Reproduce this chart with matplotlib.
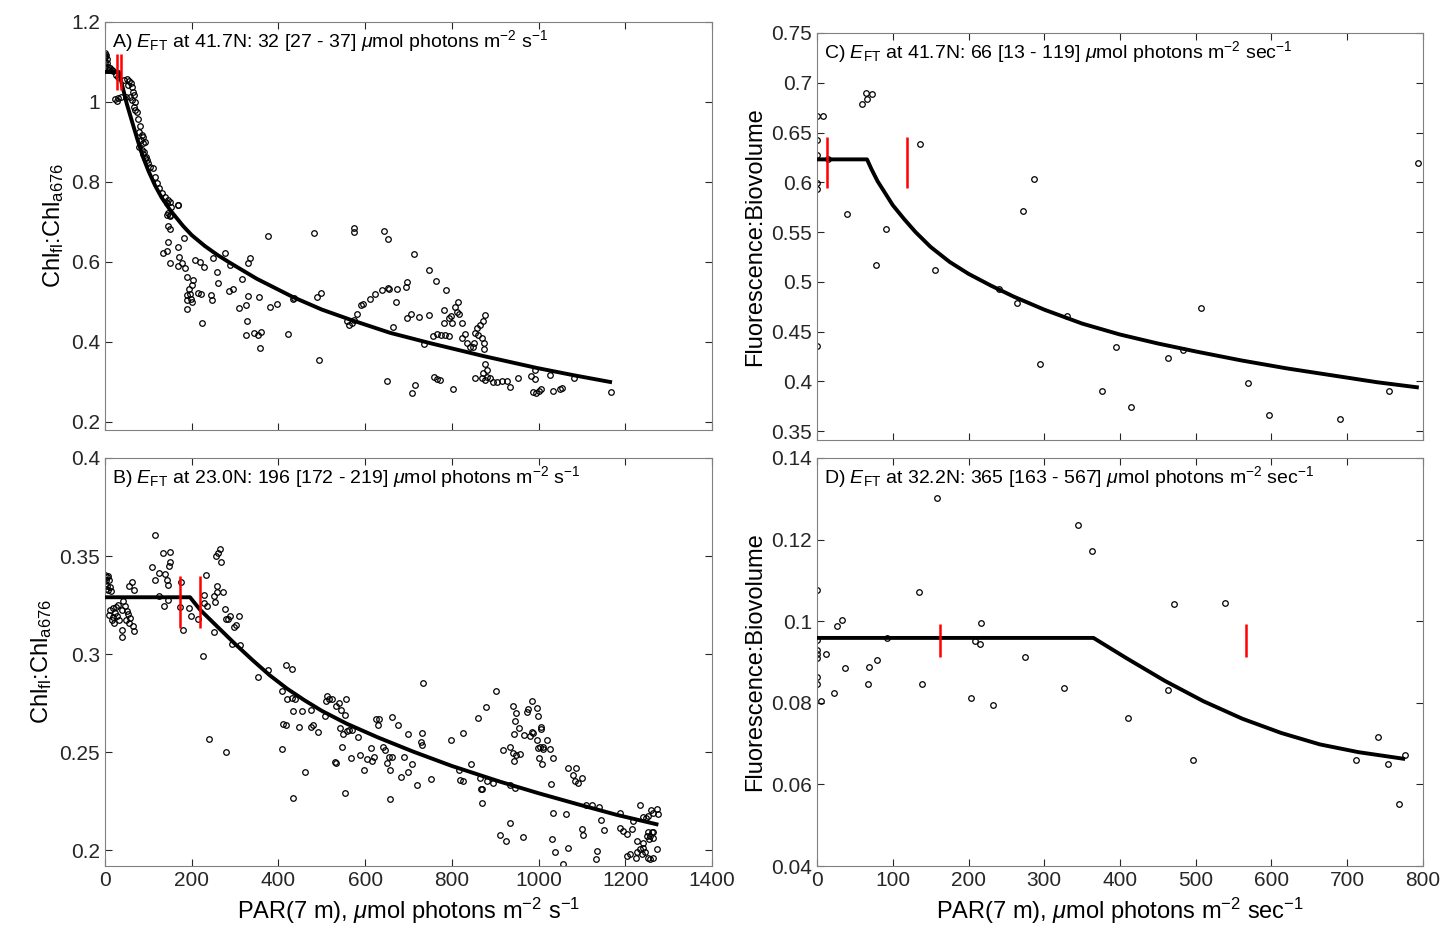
import numpy as np
import matplotlib.pyplot as plt
from matplotlib.ticker import FuncFormatter

plt.rcParams['font.family'] = ['Liberation Sans Narrow', 'Liberation Sans', 'DejaVu Sans']
plt.rcParams['mathtext.fontset'] = 'custom'
plt.rcParams['mathtext.rm'] = 'Liberation Sans'
plt.rcParams['mathtext.it'] = 'Liberation Sans:italic'
plt.rcParams['mathtext.bf'] = 'Liberation Sans:bold'

# ---- panel A: Chl_fl:Chl_a676 vs PAR, 41.7N ----
a_par = [0, 2.3, 0, 3.8, 0, 5.4, 0.8, 7.7, 3.8, 10, 0, 11.5, 15.4, 19.2,
         25, 30.7, 27, 30.7, 36, 23,
         43.8, 50, 56, 59, 54, 61.5, 48.4, 57.7, 62, 65, 67.7, 69,
         67.7, 70, 73, 76.9, 80.7, 79.2, 84.6, 88.4, 82.3, 86.9, 92.3, 79.2, 84.6, 90, 86.9,
         94.6, 96.1, 99.9, 92.3, 103.8, 110, 115.3, 119.2, 125.3, 130.7, 138.4, 146, 150,
         142.2, 151.4, 169, 146, 150,
         169, 142.3, 149.9, 146, 150, 146, 134.5, 143.8, 150, 167.6, 182, 170.7, 178.4, 169,
         184.5, 188, 202, 200, 188, 196, 188, 197.6, 194.5, 189.8, 200, 215, 220.6, 208, 219,
         228, 223, 244.5, 247.5, 250, 257.5, 261, 277.5, 288, 287, 294.5, 315, 308, 324, 329,
         334, 330.5, 326.8, 324, 344, 353.6, 359, 354.4, 358.2, 376.7, 380.5, 396.7, 422.8,
         432.8, 435.9, 482.8, 488, 497.4, 493.6, 557.4, 563.5, 569, 574.3, 582, 589.7, 595.9,
         574.3, 574.3, 611, 623.5, 638, 652.6, 654, 672.6, 643.5, 652, 670.4, 663.4, 649.6,
         694, 697, 712.6, 697, 705, 725, 748, 762.6, 748, 785.7, 755.7, 765, 774, 784, 792.4,
         735.7, 815, 807.4, 811, 817.3, 797.3, 794, 782.3, 782.3, 801, 824, 822.6, 830, 834,
         842, 848, 852, 853.6, 859, 865, 871, 876, 861, 869, 873, 874.5, 876, 880, 872.6, 882,
         888, 876, 895.6, 905, 915, 928, 853.6, 870.6, 758.8, 766, 772, 715, 709, 803.4, 934,
         953, 982.5, 991.7, 1026, 988, 993.5, 1000, 1005.5, 991.7, 1034, 1049.6, 1053.5,
         1082, 1167]
a_chl = [1.122, 1.117, 1.112, 1.107, 1.101, 1.097, 1.09, 1.087, 1.082, 1.08, 1.115, 1.084, 1.08, 1.078,
         1.067, 1.062, 1.003, 1.009, 1.012, 1.007,
         1.055, 1.057, 1.053, 1.047, 1.042, 1.038, 1.012, 1.013, 1.005, 1.026, 1.017, 1.001,
         0.988, 0.98, 0.976, 0.957, 0.94, 0.926, 0.917, 0.913, 0.905, 0.897, 0.901, 0.888, 0.88, 0.876, 0.87,
         0.863, 0.855, 0.847, 0.859, 0.838, 0.834, 0.813, 0.797, 0.784, 0.772, 0.763, 0.755, 0.751,
         0.747, 0.738, 0.742, 0.722, 0.715,
         0.7425, 0.7175, 0.7175, 0.69, 0.6817, 0.651, 0.623, 0.628, 0.597, 0.637, 0.661, 0.612, 0.597, 0.59,
         0.584, 0.562, 0.555, 0.542, 0.5175, 0.519, 0.505, 0.5067, 0.5317, 0.4817, 0.5, 0.5233, 0.52, 0.605, 0.599,
         0.587, 0.448, 0.5175, 0.505, 0.611, 0.574, 0.548, 0.622, 0.5925, 0.5275, 0.5317, 0.5575, 0.484, 0.4925, 0.515,
         0.609, 0.5967, 0.453, 0.4175, 0.423, 0.4175, 0.425, 0.5117, 0.385, 0.6658, 0.488, 0.494, 0.419,
         0.5075, 0.509, 0.6725, 0.5117, 0.5217, 0.354, 0.4533, 0.4425, 0.4467, 0.455, 0.47, 0.4917, 0.495,
         0.684, 0.674, 0.5067, 0.52, 0.53, 0.534, 0.5317, 0.5325, 0.678, 0.6567, 0.5, 0.4367, 0.3025,
         0.5383, 0.549, 0.619, 0.461, 0.47, 0.463, 0.58, 0.5525, 0.4675, 0.5308, 0.4158, 0.419, 0.4183, 0.4175, 0.415,
         0.394, 0.5008, 0.4883, 0.4758, 0.47, 0.465, 0.459, 0.48, 0.4467, 0.4467, 0.4483, 0.409, 0.419, 0.397,
         0.388, 0.388, 0.398, 0.4217, 0.434, 0.4425, 0.4525, 0.4675, 0.4175, 0.409, 0.398, 0.3817, 0.344, 0.33, 0.3217, 0.3133,
         0.309, 0.305, 0.301, 0.301, 0.3025, 0.3033, 0.309, 0.309, 0.3117, 0.3067, 0.305, 0.2925, 0.2717, 0.2817, 0.2867,
         0.3108, 0.3158, 0.3075, 0.3175, 0.2758, 0.2733, 0.2775, 0.2817, 0.329, 0.2783, 0.2817, 0.2858,
         0.3108, 0.2758]
a_fit_par = [0, 32, 42, 50, 65, 75, 88, 100, 115, 130, 150, 180, 200, 230, 260, 288, 350, 434, 500, 565,
             657, 750, 872, 996, 1080, 1165]
a_fit_chl = [1.075, 1.075, 1.031, 0.996, 0.941, 0.905, 0.861, 0.828, 0.792, 0.762, 0.730, 0.690, 0.667,
             0.640, 0.617, 0.598, 0.558, 0.512, 0.481, 0.456, 0.423, 0.397, 0.365, 0.335, 0.317, 0.300]
a_ci = [27, 37]
a_ci_span = [1.03, 1.12]

# ---- panel B: Chl_fl:Chl_a676 vs PAR, 23.0N ----
b_par = [0, 3.8, 7.7, 2.3, 10, 0, 5.4, 11.5, 2.3, 7.7, 13,
         11.5, 19.2, 25.4, 30.7, 10, 17.7, 23, 28.4, 15.4, 20.8, 33, 38.4, 42.3, 46, 50, 53.8, 57.7,
         48.4, 56, 65.3, 66.9, 38.4, 38.4, 56, 63, 67.7, 115.3,
         109, 125.3, 116, 138.4, 142.2, 146, 134.5, 150, 150, 148.4,
         125.3, 136.8, 144.5, 174.5, 173, 180.7, 197.6, 194.5, 215, 225, 228, 233, 229, 236, 252,
         257.5, 257.5, 253.7, 273, 256, 261, 265, 267, 251.4,
         277, 284.4, 288, 279, 309.8, 302, 297.5, 292, 311, 352, 376.7, 417.4, 430.5, 240, 279,
         407.4, 419, 430.5, 438.2, 432.8, 453.6, 474.3, 411, 417.4, 447.4, 474.3, 480.5, 490.5, 407.4, 461, 432.8,
         511, 517.3, 522.7, 509, 532.8, 540.5, 543.6, 553.6, 555.8, 507.4,
         542, 548, 557, 563, 569.3, 547.6, 530.4, 532.8, 566.6, 584.3, 553.6, 588, 598,
         605, 613, 615, 620.4, 625.3, 633, 630.7, 640.4, 646, 649.6, 656, 661, 662.6, 657, 675.6,
         690, 699.6, 698, 709, 682.6, 718.8, 730.3, 728, 731, 732.8, 751.8, 797, 826, 817, 818.7, 825,
         843.4, 861, 878, 902, 865, 867, 880, 895.6, 657,
         941.7, 947.1, 972.5, 974.8, 984, 997, 997.7, 945.6, 955.6, 944, 966.3, 980.2, 984, 987.9,
         1004.8, 1005.6, 995.5, 1003.2, 1009.4, 1018.6, 1026.3, 1010.9, 999.4, 1034, 1001.7, 1007,
         934, 940.2, 947.9, 957.1, 942.5, 918.7,
         1067, 1085.7, 1078.6, 1084, 1090, 1099.5, 1028.7, 933, 944.8, 869, 869, 933, 911, 925, 965,
         1032.4, 1062.4, 1030, 1037.8, 1068.6, 1055.5, 1099.5, 1103, 1134, 1132, 1109.3, 1124, 1140, 1144, 1151,
         1187.7, 1187.7, 1195.4, 1203, 1214.6, 1218.5, 1226.2, 1233.9, 1241.5, 1247, 1253, 1259.2,
         1264.6, 1272.3, 1274.6, 1260.8, 1257, 1264.6, 1249.2, 1241.5, 1233.9, 1226.2, 1241.5, 1245.4,
         1253, 1257, 1264.6, 1203, 1210.8, 1224.6, 1237.7, 1253, 1263, 1272.3, 1255.4]
b_chl = [0.3405, 0.3393, 0.34, 0.3379, 0.3376, 0.3359, 0.3349, 0.3342, 0.3332, 0.3325, 0.332,
         0.3226, 0.3235, 0.324, 0.3252, 0.32, 0.3189, 0.3209, 0.3193, 0.3172, 0.3159, 0.3172, 0.3226, 0.3269,
         0.3243, 0.3218, 0.3206, 0.3184, 0.3176, 0.3159, 0.3145, 0.312, 0.3121, 0.3088, 0.3349, 0.3366, 0.3328, 0.3605,
         0.3442, 0.3416, 0.3379, 0.341, 0.3379, 0.3354, 0.3515, 0.3523, 0.3472, 0.345,
         0.3298, 0.3243, 0.3277, 0.337, 0.324, 0.3121, 0.3193, 0.3235, 0.318, 0.2989, 0.3303, 0.3405, 0.326,
         0.3243, 0.3298, 0.3315, 0.3349, 0.3264, 0.3315, 0.3498, 0.3518, 0.3535, 0.3472, 0.3111,
         0.323, 0.3179, 0.3193, 0.3179, 0.3193, 0.315, 0.3138, 0.3054, 0.3049, 0.2884, 0.2918, 0.2947, 0.2925,
         0.257, 0.25,
         0.2811, 0.2769, 0.2777, 0.2769, 0.2708, 0.271, 0.2715, 0.2645, 0.2637, 0.2628, 0.2628, 0.2638,
         0.2603, 0.2515, 0.24, 0.2269,
         0.2786, 0.2769, 0.2772, 0.276, 0.2738, 0.2749, 0.2715, 0.2688, 0.2769, 0.2684,
         0.2625, 0.2594, 0.2606, 0.2613, 0.2613, 0.2528, 0.245, 0.2447, 0.2469, 0.2579, 0.2294, 0.2486, 0.241,
         0.2464, 0.2523, 0.2455, 0.2477, 0.267, 0.267, 0.2638, 0.2528, 0.2511, 0.2447, 0.2477, 0.2476, 0.2679,
         0.2408, 0.2638,
         0.2476, 0.2594, 0.24, 0.2442, 0.2376, 0.2332, 0.2599, 0.2552, 0.2535, 0.2854, 0.2362, 0.2562, 0.2599,
         0.2408, 0.2357, 0.2354, 0.2438, 0.2676, 0.2732, 0.2811, 0.2371, 0.2315, 0.2354, 0.2342, 0.226,
         0.2738, 0.2701, 0.2704, 0.2718, 0.276, 0.2723, 0.2687, 0.2659, 0.2625, 0.2594, 0.2586, 0.2582, 0.2603,
         0.2596, 0.263, 0.262, 0.2562, 0.2528, 0.2528, 0.2562, 0.2514, 0.2514, 0.2523, 0.2469, 0.2472, 0.2438,
         0.2528, 0.2498, 0.2484, 0.2489, 0.2455, 0.2509,
         0.2421, 0.2421, 0.2382, 0.2353, 0.2345, 0.237, 0.2336, 0.2333, 0.2316, 0.2314, 0.2243, 0.2138, 0.2077,
         0.2048, 0.207, 0.2189, 0.2184, 0.2057, 0.1989, 0.2014, 0.193, 0.2108, 0.2077, 0.1999, 0.1958, 0.2231,
         0.2231, 0.2221, 0.2153, 0.2103,
         0.2192, 0.2116, 0.2099, 0.2082, 0.2108, 0.215, 0.2048, 0.223, 0.2172, 0.2167, 0.2175, 0.2206, 0.2189,
         0.2209, 0.2187, 0.2094, 0.2074, 0.2065, 0.2074, 0.2036, 0.2006, 0.1989, 0.2014, 0.1989, 0.1963, 0.1955,
         0.1963, 0.1972, 0.198, 0.1963, 0.198, 0.2094, 0.2094, 0.2009, 0.2057]
b_fit_par = [0, 196, 219, 260, 300, 340, 380, 420, 460, 500, 557, 630, 711, 800, 911, 1000, 1095, 1180, 1272]
b_fit_chl = [0.329, 0.329, 0.3227, 0.3138, 0.3052, 0.2970, 0.2892, 0.2824, 0.2765, 0.2711, 0.2646, 0.2575,
             0.2503, 0.2430, 0.2350, 0.2291, 0.2232, 0.2181, 0.2133]
b_ci = [172, 219]
b_ci_span = [0.3135, 0.340]

# ---- panel C: fluorescence:biovolume, 41.7N ----
c_par = [0, 7.7, 0, 0, 0, 0, 0, 39.5, 59, 65.6, 65, 73, 91, 78.5, 136, 156, 240.5, 264.6, 272, 286,
         294, 330, 376, 395, 415, 463, 482.6, 506.7, 569, 597, 690, 755, 793, 15]
c_fb = [0.667, 0.667, 0.642, 0.627, 0.599, 0.593, 0.435, 0.568, 0.679, 0.684, 0.690, 0.689, 0.553, 0.517,
        0.638, 0.512, 0.493, 0.479, 0.571, 0.603, 0.417, 0.466, 0.390, 0.434, 0.374, 0.423, 0.431, 0.474,
        0.398, 0.366, 0.362, 0.390, 0.619, 0.623]
c_fit_par = [0, 66, 72, 80, 90, 100, 115, 130, 150, 175, 200, 230, 260, 300, 350, 400, 450, 500, 560,
             620, 680, 740, 792]
c_fit_fb = [0.623, 0.623, 0.613, 0.601, 0.589, 0.577, 0.563, 0.550, 0.535, 0.520, 0.508, 0.496, 0.485,
            0.472, 0.458, 0.447, 0.438, 0.430, 0.421, 0.413, 0.406, 0.399, 0.394]
c_ci = [13, 119]
c_ci_span = [0.594, 0.645]

# ---- panel D: fluorescence:biovolume, 32.2N ----
d_par = [0, 0, 0, 0, 0, 0, 0, 5.6, 11.8, 22.6, 27, 33, 36.4, 67, 68, 79, 92, 134, 138.5, 158.5,
         203.6, 209, 215, 217, 233, 274, 326, 344, 363.6, 410.8, 463.6, 471, 496, 538.5, 712, 740.5,
         754, 769, 776]
d_fb = [0.1076, 0.0955, 0.093, 0.0919, 0.091, 0.0863, 0.0847, 0.0804, 0.0919, 0.0823, 0.0987, 0.1004,
        0.0885, 0.0847, 0.0888, 0.0904, 0.0959, 0.1072, 0.0846, 0.1303, 0.0812, 0.0951, 0.0944, 0.0996,
        0.0794, 0.0912, 0.0836, 0.1236, 0.1171, 0.0762, 0.0831, 0.1043, 0.0659, 0.1045, 0.0661, 0.0716,
        0.0649, 0.0553, 0.0671]
d_fit_par = [0, 365, 408, 459, 510, 561.5, 613, 664, 715, 774]
d_fit_fb = [0.0959, 0.0959, 0.0910, 0.0854, 0.0804, 0.0761, 0.0726, 0.0698, 0.0679, 0.0663]
d_ci = [163, 567]
d_ci_span = [0.0912, 0.0992]


def fmt(v, pos):
    return '%g' % round(v, 4)


def panel(ax, px, py, fx, fy, ci, span, xlim, ylim, yticks, label):
    ax.plot(px, py, 'o', mfc='none', mec='k', ms=4, mew=0.9, zorder=2)
    ax.plot(fx, fy, '-', color='k', lw=2.8, zorder=3, solid_joinstyle='round')
    ax.vlines(ci, span[0], span[1], colors='r', lw=1.8, zorder=4)
    ax.set_xlim(xlim)
    ax.set_ylim(ylim)
    ax.set_yticks(yticks)
    ax.yaxis.set_major_formatter(FuncFormatter(fmt))
    ax.tick_params(direction='in', top=True, right=True, length=5, width=0.8,
                   labelsize=15, colors='0.15')
    for s in ax.spines.values():
        s.set_color('0.5')
        s.set_linewidth(0.8)
    ax.text(0.012, 0.985, label, transform=ax.transAxes, ha='left', va='top', fontsize=14)


fig = plt.figure(figsize=(14.43, 9.40), dpi=100)
ax_a = fig.add_axes([0.0728, 0.5426, 0.4206, 0.4340])
ax_b = fig.add_axes([0.0728, 0.0787, 0.4206, 0.4341])
ax_c = fig.add_axes([0.5662, 0.5319, 0.4199, 0.4330])
ax_d = fig.add_axes([0.5662, 0.0787, 0.4199, 0.4341])

unit_s = r'$\mathit{\mu}$mol photons m$^{-2}$ s$^{-1}$'
unit_sec = r'$\mathit{\mu}$mol photons m$^{-2}$ sec$^{-1}$'

panel(ax_a, a_par, a_chl, a_fit_par, a_fit_chl, a_ci, a_ci_span, (0, 1400), (0.18, 1.2),
      [0.2, 0.4, 0.6, 0.8, 1.0, 1.2],
      r'A) $\mathit{E}_{\mathrm{FT}}$ at 41.7N: 32 [27 - 37] ' + unit_s)
panel(ax_b, b_par, b_chl, b_fit_par, b_fit_chl, b_ci, b_ci_span, (0, 1400), (0.192, 0.4),
      [0.2, 0.25, 0.3, 0.35, 0.4],
      r'B) $\mathit{E}_{\mathrm{FT}}$ at 23.0N: 196 [172 - 219] ' + unit_s)
panel(ax_c, c_par, c_fb, c_fit_par, c_fit_fb, c_ci, c_ci_span, (0, 800), (0.341, 0.75),
      [0.35, 0.4, 0.45, 0.5, 0.55, 0.6, 0.65, 0.7, 0.75],
      r'C) $\mathit{E}_{\mathrm{FT}}$ at 41.7N: 66 [13 - 119] ' + unit_sec)
panel(ax_d, d_par, d_fb, d_fit_par, d_fit_fb, d_ci, d_ci_span, (0, 800), (0.04, 0.14),
      [0.04, 0.06, 0.08, 0.1, 0.12, 0.14],
      r'D) $\mathit{E}_{\mathrm{FT}}$ at 32.2N: 365 [163 - 567] ' + unit_sec)

for ax in (ax_a, ax_b):
    ax.set_xticks(np.arange(0, 1401, 200))
    ax.set_ylabel(r'Chl$_{\mathrm{fl}}$:Chl$_{\mathrm{a676}}$', fontsize=17)
for ax in (ax_c, ax_d):
    ax.set_xticks(np.arange(0, 801, 100))
    ax.set_ylabel('Fluorescence:Biovolume', fontsize=17)
ax_a.tick_params(labelbottom=False)
ax_c.tick_params(labelbottom=False)
ax_b.set_xlabel('PAR(7 m), ' + unit_s, fontsize=17)
ax_d.set_xlabel('PAR(7 m), ' + unit_sec, fontsize=17)

fig.savefig('out.png', dpi=100)
